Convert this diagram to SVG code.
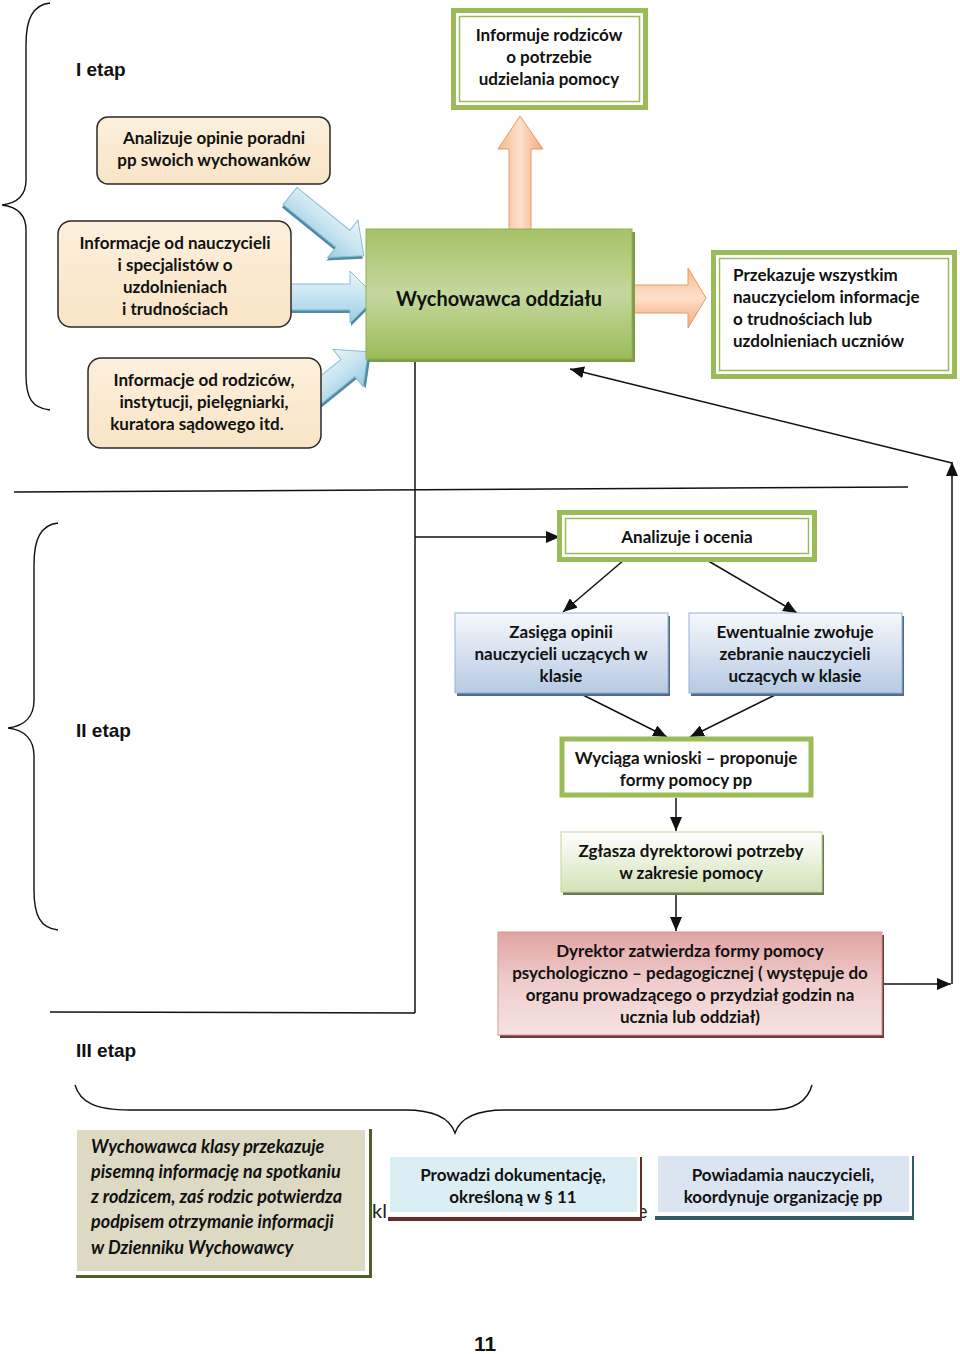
<svg xmlns="http://www.w3.org/2000/svg" width="960" height="1354" viewBox="0 0 960 1354">
<defs>
<style>
.t{font-family:Lato,"Liberation Sans",sans-serif;font-weight:700;font-size:17px;fill:#111;text-anchor:middle}
.tl{font-family:Lato,"Liberation Sans",sans-serif;font-weight:700;font-size:17px;fill:#111}
.ti{font-family:Lato,"Liberation Sans",sans-serif;font-weight:700;font-style:italic;font-size:18px;fill:#111}
.et{font-family:"Liberation Sans",Arial,sans-serif;font-weight:700;font-size:19px;fill:#111}
.ln{fill:none;stroke:#111;stroke-width:1.5}
.br{fill:none;stroke:#111;stroke-width:1.4}
.beige{fill:url(#gBeige);stroke:#2a2a2a;stroke-width:1.5}
.dbl-o{fill:#fff;stroke:#9bbb59;stroke-width:5}
.dbl-i{fill:none;stroke:#9bbb59;stroke-width:1.5}
.barrow{fill:url(#gBlueA);stroke:#8cbcd2;stroke-width:1}
.barrow-s{fill:#4e8ba6}
.oarrow{stroke:#e49a66;stroke-width:1}
</style>
<linearGradient id="gBeige" x1="0" y1="0" x2="0" y2="1"><stop offset="0" stop-color="#fdf0dc"/><stop offset="1" stop-color="#f9e4c6"/></linearGradient>
<linearGradient id="gBlueA" x1="0" y1="0" x2="0" y2="1"><stop offset="0" stop-color="#e8f5fa"/><stop offset="0.5" stop-color="#c6e4f0"/><stop offset="1" stop-color="#9ccbe0"/></linearGradient>
<linearGradient id="gOrH" x1="0" y1="0" x2="0" y2="1"><stop offset="0" stop-color="#f7b98e"/><stop offset="0.5" stop-color="#fde0cb"/><stop offset="1" stop-color="#f4a877"/></linearGradient>
<linearGradient id="gOrV" x1="0" y1="0" x2="1" y2="0"><stop offset="0" stop-color="#f7b98e"/><stop offset="0.5" stop-color="#fde0cb"/><stop offset="1" stop-color="#f4a877"/></linearGradient>
<linearGradient id="gGreen" x1="0" y1="0" x2="0" y2="1"><stop offset="0" stop-color="#a6c267"/><stop offset="0.5" stop-color="#c4d89e"/><stop offset="1" stop-color="#9bbb59"/></linearGradient>
<linearGradient id="gBlueBox" x1="0" y1="0" x2="0" y2="1"><stop offset="0" stop-color="#f6f8fc"/><stop offset="1" stop-color="#b6cae3"/></linearGradient>
<linearGradient id="gLG" x1="0" y1="0" x2="0" y2="1"><stop offset="0" stop-color="#ffffff"/><stop offset="1" stop-color="#d3e2b6"/></linearGradient>
<linearGradient id="gPink" x1="0" y1="0" x2="0" y2="1"><stop offset="0" stop-color="#e1a3a2"/><stop offset="0.5" stop-color="#efcdcc"/><stop offset="1" stop-color="#f6e3e3"/></linearGradient>
<marker id="ahL" viewBox="0 0 14 12" refX="14" refY="6" markerWidth="14" markerHeight="12" markerUnits="userSpaceOnUse" orient="auto"><path d="M0,0 L14,6 L0,12 Z" fill="#111"/></marker>
</defs>
<rect width="960" height="1354" fill="#fff"/>

<!-- braces and stage labels -->
<g id="stages">
<path class="br" d="M50,3 C32,5 26,20 26,45 L26,180 C26,195 18,203 2,205 C18,207 26,215 26,230 L26,375 C26,398 32,408 50,410"/>
<text class="et" x="76" y="76">I etap</text>
<path class="br" d="M58,523 C40,525 34,540 34,565 L34,700 C34,716 25,726 8,728 C25,730 34,740 34,756 L34,890 C34,915 40,928 58,930"/>
<text class="et" x="76" y="737">II etap</text>
<text class="et" x="76" y="1057">III etap</text>
<path class="br" d="M75,1085 C80,1102 95,1110 130,1110 L405,1110 C435,1110 450,1118 455,1133 C460,1118 475,1110 505,1110 L770,1110 C795,1110 808,1100 812,1085"/>
</g>

<!-- connectors -->
<g id="connectors">
<line class="ln" x1="14" y1="492" x2="908" y2="487"/>
<line class="ln" x1="415" y1="359" x2="415" y2="1013"/>
<line class="ln" x1="50" y1="1012" x2="415" y2="1013"/>
<line class="ln" x1="415" y1="537" x2="560" y2="537" marker-end="url(#ahL)"/>
<line class="ln" x1="624" y1="560" x2="563" y2="612" marker-end="url(#ahL)"/>
<line class="ln" x1="705" y1="559" x2="797" y2="613" marker-end="url(#ahL)"/>
<line class="ln" x1="581" y1="694" x2="667" y2="737" marker-end="url(#ahL)"/>
<line class="ln" x1="777" y1="694" x2="690" y2="737" marker-end="url(#ahL)"/>
<line class="ln" x1="676" y1="798" x2="676" y2="831" marker-end="url(#ahL)"/>
<line class="ln" x1="676" y1="892" x2="676" y2="931" marker-end="url(#ahL)"/>
<line class="ln" x1="882" y1="984" x2="951" y2="984" marker-end="url(#ahL)"/>
<line class="ln" x1="952" y1="984" x2="952" y2="462" marker-end="url(#ahL)"/>
<line class="ln" x1="952" y1="463" x2="570" y2="369" marker-end="url(#ahL)"/>
</g>

<!-- block arrows -->
<g id="block-arrows">
<g transform="translate(290,196) rotate(39)">
<path class="barrow-s" transform="translate(1,3)" d="M0,-11 L68,-11 L68,-24 L95,0 L68,24 L68,11 L0,11 Z"/>
<path class="barrow" d="M0,-11 L68,-11 L68,-24 L95,0 L68,24 L68,11 L0,11 Z"/>
</g>
<g>
<path class="barrow-s" transform="translate(1,3)" d="M284,284 L350,284 L350,271 L376,297 L350,323 L350,310 L284,310 Z"/>
<path class="barrow" d="M284,284 L350,284 L350,271 L376,297 L350,323 L350,310 L284,310 Z"/>
</g>
<g transform="translate(306,402) rotate(-39)">
<path class="barrow-s" transform="translate(1,3)" d="M0,-11 L54,-11 L54,-24 L80,0 L54,24 L54,11 L0,11 Z"/>
<path class="barrow" d="M0,-11 L54,-11 L54,-24 L80,0 L54,24 L54,11 L0,11 Z"/>
</g>
<path class="oarrow" fill="url(#gOrV)" d="M509,231 L509,149 L498,149 L520,116 L543,149 L531,149 L531,231 Z"/>
<path class="oarrow" fill="url(#gOrH)" d="M632,285 L688,285 L688,268 L706,298 L688,328 L688,313 L632,313 Z"/>
</g>

<g id="n-informuje">
<rect class="dbl-o" x="453.5" y="10.5" width="192" height="97"/>
<rect class="dbl-i" x="459.5" y="16.5" width="180" height="85"/>
<text class="t" x="549" y="41">Informuje rodziców</text>
<text class="t" x="549" y="63">o potrzebie</text>
<text class="t" x="549" y="85">udzielania pomocy</text>
</g>

<g id="n-analizuje-opinie">
<rect class="beige" x="97" y="117" width="233" height="67" rx="11"/>
<text class="t" x="214" y="144">Analizuje opinie poradni</text>
<text class="t" x="214" y="166">pp swoich wychowanków</text>
</g>

<g id="n-info-nauczyciele">
<rect class="beige" x="58" y="221" width="233" height="106" rx="13"/>
<text class="t" x="175" y="249">Informacje od nauczycieli</text>
<text class="t" x="175" y="271">i specjalistów o</text>
<text class="t" x="175" y="293">uzdolnieniach</text>
<text class="t" x="175" y="315">i trudnościach</text>
</g>

<g id="n-info-rodzice">
<rect class="beige" x="88" y="358" width="233" height="90" rx="13"/>
<text class="t" x="204" y="386">Informacje od rodziców,</text>
<text class="t" x="204" y="408">instytucji, pielęgniarki,</text>
<text class="t" x="197" y="430">kuratora sądowego itd.</text>
</g>

<g id="n-wychowawca">
<rect x="369" y="232" width="266" height="130" fill="#7f9a48"/>
<rect x="366" y="229" width="266" height="130" fill="url(#gGreen)" stroke="#8fb053" stroke-width="1"/>
<text class="t" x="499" y="306" style="font-size:20px">Wychowawca oddziału</text>
</g>

<g id="n-przekazuje">
<rect class="dbl-o" x="713.5" y="252.5" width="241" height="124"/>
<rect class="dbl-i" x="719.5" y="258.5" width="229" height="112"/>
<text class="tl" x="733" y="281">Przekazuje wszystkim</text>
<text class="tl" x="733" y="303">nauczycielom informacje</text>
<text class="tl" x="733" y="325">o trudnościach lub</text>
<text class="tl" x="733" y="347">uzdolnieniach uczniów</text>
</g>

<g id="n-analizuje-ocenia">
<rect class="dbl-o" x="559.5" y="512.5" width="255" height="47"/>
<rect class="dbl-i" x="565.5" y="518.5" width="243" height="35"/>
<text class="t" x="687" y="543">Analizuje i ocenia</text>
</g>

<g id="n-zasiega">
<rect x="457" y="616" width="213" height="80" fill="#4f6b93"/>
<rect x="455" y="613" width="213" height="80" fill="url(#gBlueBox)" stroke="#95b3d7" stroke-width="1"/>
<text class="t" x="561" y="638">Zasięga opinii</text>
<text class="t" x="561" y="660">nauczycieli uczących w</text>
<text class="t" x="561" y="682">klasie</text>
</g>

<g id="n-ewentualnie">
<rect x="691" y="616" width="213" height="80" fill="#4f6b93"/>
<rect x="689" y="613" width="213" height="80" fill="url(#gBlueBox)" stroke="#95b3d7" stroke-width="1"/>
<text class="t" x="795" y="638">Ewentualnie zwołuje</text>
<text class="t" x="795" y="660">zebranie nauczycieli</text>
<text class="t" x="795" y="682">uczących w klasie</text>
</g>

<g id="n-wyciaga">
<rect x="562" y="739" width="249" height="56" fill="#fff" stroke="#9bbb59" stroke-width="5"/>
<text class="t" x="686" y="764">Wyciąga wnioski – proponuje</text>
<text class="t" x="686" y="786">formy pomocy pp</text>
</g>

<g id="n-zglasza">
<rect x="563" y="835" width="261" height="60" fill="#6b7a52"/>
<rect x="561" y="832" width="261" height="60" fill="url(#gLG)" stroke="#c3d69b" stroke-width="1"/>
<text class="t" x="691" y="857">Zgłasza dyrektorowi potrzeby</text>
<text class="t" x="691" y="879">w zakresie pomocy</text>
</g>

<g id="n-dyrektor">
<rect x="500" y="935" width="384" height="103" fill="#6b3a39"/>
<rect x="498" y="932" width="384" height="103" fill="url(#gPink)" stroke="#d99694" stroke-width="1"/>
<text class="t" x="690" y="957">Dyrektor zatwierdza formy pomocy</text>
<text class="t" x="690" y="979">psychologiczno – pedagogicznej ( występuje do</text>
<text class="t" x="690" y="1001">organu prowadzącego o przydział godzin na</text>
<text class="t" x="690" y="1023">ucznia lub oddział)</text>
</g>

<text x="372" y="1218" style="font-family:Lato,'Liberation Sans',sans-serif;font-size:20px;fill:#222">kla</text>
<text x="637" y="1218" style="font-family:Lato,'Liberation Sans',sans-serif;font-size:20px;fill:#222">e</text>

<g id="n-wychowawca-klasy">
<rect x="76" y="1129" width="296" height="149" fill="#4f5f2a"/>
<rect x="73" y="1126" width="296" height="149" fill="#fff"/>
<rect x="77" y="1130" width="288" height="141" fill="#ddd9c3"/>
<text class="ti" x="91" y="1153">Wychowawca klasy przekazuje</text>
<text class="ti" x="91" y="1178">pisemną informację na spotkaniu</text>
<text class="ti" x="91" y="1203">z rodzicem, zaś rodzic potwierdza</text>
<text class="ti" x="91" y="1228">podpisem otrzymanie informacji</text>
<text class="ti" x="91" y="1254">w Dzienniku Wychowawcy</text>
</g>

<g id="n-prowadzi">
<rect x="388" y="1157" width="254" height="64" fill="#6a2a2a"/>
<rect x="386" y="1153" width="254" height="64" fill="#fff"/>
<rect x="390" y="1157" width="247" height="55" fill="#daeef3"/>
<text class="t" x="513" y="1181">Prowadzi dokumentację,</text>
<text class="t" x="513" y="1203">określoną w § 11</text>
</g>

<g id="n-powiadamia">
<rect x="655" y="1156" width="259" height="64" fill="#2f5a63"/>
<rect x="653" y="1152" width="259" height="64" fill="#fff"/>
<rect x="658" y="1156" width="251" height="56" fill="#dbe5f1"/>
<text class="t" x="783" y="1181">Powiadamia nauczycieli,</text>
<text class="t" x="783" y="1203">koordynuje organizację pp</text>
</g>

<text x="485" y="1351" style="font-family:'Liberation Sans',Arial,sans-serif;font-weight:700;font-size:21px;fill:#111;text-anchor:middle">11</text>
</svg>
